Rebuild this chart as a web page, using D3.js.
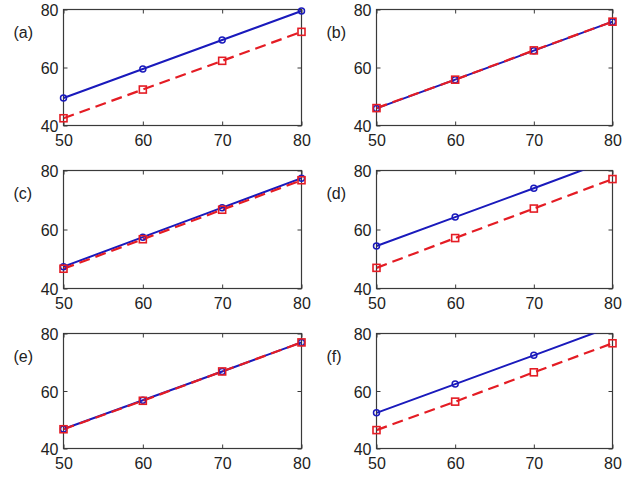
<!DOCTYPE html>
<html>
<head>
<meta charset="utf-8">
<script src="https://cdn.jsdelivr.net/npm/d3@7/dist/d3.min.js"></script>
<style>
  body { margin: 0; background: #fff; }
  text { font-family: Arial, "Liberation Sans", sans-serif; fill: #222; }
</style>
</head>
<body>
<svg id="chart" width="629" height="478"></svg>
<script>
// x positions shared by every panel
const xValues = [50, 60, 70, 80];
const xTicks = [50, 60, 70, 80];
const yTicks = [40, 60, 80];
const panelLabels = ["(a)", "(b)", "(c)", "(d)", "(e)", "(f)"];

// solid blue series (circles), one array per panel
const blueA = [49.5, 59.5, 69.5, 79.5];
const blueB = [45.9, 55.8, 65.8, 75.8];
const blueC = [47.4, 57.4, 67.4, 77.4];
const blueD = [54.4, 64.2, 74.0, 83.9];
const blueE = [46.8, 56.8, 66.8, 76.9];
const blueF = [52.4, 62.4, 72.4, 82.5];

// dashed red series (squares), one array per panel
const redA = [42.5, 52.4, 62.3, 72.3];
const redB = [46.0, 55.8, 65.9, 75.8];
const redC = [46.7, 56.7, 66.7, 76.7];
const redD = [47.0, 57.1, 67.1, 77.1];
const redE = [46.7, 56.6, 66.8, 76.9];
const redF = [46.4, 56.3, 66.5, 76.6];

const blueSeries = [blueA, blueB, blueC, blueD, blueE, blueF];
const redSeries = [redA, redB, redC, redD, redE, redF];

// panel grid: column x-extents and row y-extents (pixels)
const cols = [[63.5, 301.5], [376.5, 612.5]];
const rows = [[9.5, 125.5], [170.5, 288.5], [333.5, 448.5]];

const BLUE = "#1a1abc";
const RED = "#e41c24";
const AXIS = "#3a3a3a";

const svg = d3.select("#chart");

panelLabels.forEach((label, i) => {
  const [x0, x1] = cols[i % 2];
  const [y0, y1] = rows[Math.floor(i / 2)];

  const x = d3.scaleLinear().domain([50, 80]).range([x0, x1]);
  const y = d3.scaleLinear().domain([40, 80]).range([y1, y0]);
  const inside = v => v >= 40 && v <= 80;

  const g = svg.append("g");
  const clipId = "clip" + i;
  svg.append("clipPath").attr("id", clipId)
    .append("rect")
    .attr("x", x0).attr("y", y0)
    .attr("width", x1 - x0).attr("height", y1 - y0);

  // inward ticks on all four sides
  const tickLen = 4;
  const bottomAxis = d3.axisBottom(x).tickValues(xTicks).tickSize(-tickLen).tickPadding(9);
  const topAxis = d3.axisTop(x).tickValues(xTicks).tickSize(-tickLen).tickFormat("");
  const leftAxis = d3.axisLeft(y).tickValues(yTicks).tickSize(-tickLen).tickPadding(9);
  const rightAxis = d3.axisRight(y).tickValues(yTicks).tickSize(-tickLen).tickFormat("");

  const styleAxis = sel => {
    sel.select(".domain").remove();
    sel.selectAll(".tick line").attr("stroke", AXIS).attr("stroke-width", 1);
    sel.selectAll(".tick text")
      .attr("font-size", 16)
      .attr("font-family", "Arial, 'Liberation Sans', sans-serif")
      .attr("fill", "#222");
  };

  g.append("g").attr("transform", `translate(0,${y1})`).call(bottomAxis).call(styleAxis)
    .selectAll(".tick text").attr("dy", "0.72em").attr("y", 9);
  g.append("g").attr("transform", `translate(0,${y0})`).call(topAxis).call(styleAxis);
  g.append("g").attr("transform", `translate(${x0},0)`).call(leftAxis).call(styleAxis)
    .selectAll(".tick text").attr("x", -5).attr("dy", "0.38em");
  g.append("g").attr("transform", `translate(${x1},0)`).call(rightAxis).call(styleAxis);

  const plot = g.append("g").attr("clip-path", `url(#${clipId})`);
  const marks = g.append("g");
  const line = d3.line().x((d, k) => x(xValues[k])).y(d => y(d));

  // blue solid line with circle markers
  const blue = blueSeries[i];
  plot.append("path").datum(blue)
    .attr("d", line)
    .attr("fill", "none")
    .attr("stroke", BLUE)
    .attr("stroke-width", 2);

  // red dashed line with square markers
  const red = redSeries[i];
  plot.append("path").datum(red)
    .attr("d", line)
    .attr("fill", "none")
    .attr("stroke", RED)
    .attr("stroke-width", 2.2)
    .attr("stroke-dasharray", "11,6");

  // markers are drawn whole at the frame edge, dropped when off the y range
  marks.selectAll(".circ")
    .data(blue.map((v, k) => ({ x: xValues[k], v })).filter(d => inside(d.v)))
    .enter().append("circle")
    .attr("cx", d => x(d.x))
    .attr("cy", d => y(d.v))
    .attr("r", 3)
    .attr("fill", "none")
    .attr("stroke", BLUE)
    .attr("stroke-width", 1.5);

  const sq = 7;
  marks.selectAll(".sq")
    .data(red.map((v, k) => ({ x: xValues[k], v })).filter(d => inside(d.v)))
    .enter().append("rect")
    .attr("x", d => x(d.x) - sq / 2)
    .attr("y", d => y(d.v) - sq / 2)
    .attr("width", sq).attr("height", sq)
    .attr("fill", "none")
    .attr("stroke", RED)
    .attr("stroke-width", 1.6);

  // axes box
  g.insert("rect", ":first-child")
    .attr("x", x0).attr("y", y0)
    .attr("width", x1 - x0).attr("height", y1 - y0)
    .attr("fill", "none")
    .attr("stroke", AXIS)
    .attr("stroke-width", 1.2);

  // panel letter
  g.append("text")
    .attr("x", x0 - 50)
    .attr("y", y0 + 23)
    .attr("dy", "0.35em")
    .attr("font-size", 16)
    .text(label);
});
</script>
</body>
</html>
